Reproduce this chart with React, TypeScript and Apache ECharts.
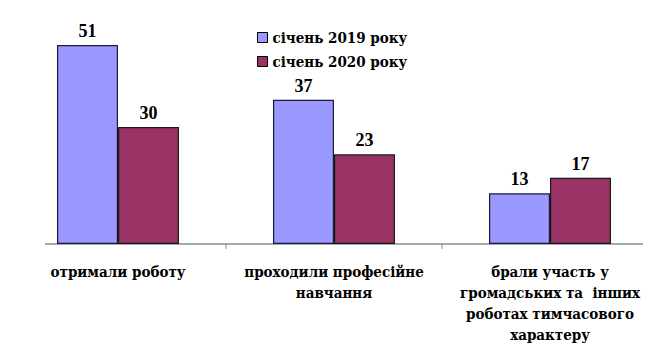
import React, { useEffect, useRef } from "react";
import * as echarts from "echarts";

const categories = [
  "отримали роботу",
  "проходили професійне\nнавчання",
  "брали участь у\nгромадських та  інших\nроботах тимчасового\nхарактеру",
];
const seriesNames = ["січень 2019 року", "січень 2020 року"];
const values2019 = [51, 37, 13];
const values2020 = [30, 23, 17];

const FONT = "'DejaVu Serif Condensed', 'DejaVu Serif', serif";
const NUMFONT = "'Liberation Serif', serif";

export default function App() {
  const ref = useRef<HTMLDivElement>(null);
  useEffect(() => {
    if (!ref.current) return;
    const chart = echarts.init(ref.current, undefined, { renderer: "svg" });
    const labelStyle = {
      show: true,
      position: "top" as const,
      distance: 5,
      fontFamily: NUMFONT,
      fontWeight: "bold" as const,
      fontSize: 18,
      color: "#000",
    };
    chart.setOption({
      animation: false,
      backgroundColor: "#fff",
      textStyle: { fontFamily: FONT },
      grid: { left: 10, top: 10, width: 648, height: 234, containLabel: false },
      legend: {
        left: 252,
        top: 25,
        orient: "vertical",
        itemWidth: 10,
        itemHeight: 10,
        itemGap: 9,
        textStyle: { fontFamily: FONT, fontWeight: "bold", fontSize: 15, color: "#000" },
        data: seriesNames.map((n) => ({ name: n, icon: "rect", itemStyle: { borderColor: "#000", borderWidth: 1 } })),
      },
      xAxis: {
        type: "category",
        data: categories,
        axisLine: { show: false },
        axisTick: { show: false },
        axisLabel: {
          margin: 17,
          fontFamily: FONT,
          fontWeight: "bold",
          fontSize: 15,
          lineHeight: 21,
          color: "#000",
          interval: 0,
          verticalAlign: "top",
        },
      },
      yAxis: {
        type: "value",
        min: 0,
        max: 60,
        show: false,
        splitLine: { show: false },
      },
      graphic: [
        { type: "line", shape: { x1: 45, y1: 244, x2: 643, y2: 244 }, style: { stroke: "#8c8c8c", lineWidth: 1.5 }, z: 1 },
        { type: "line", shape: { x1: 226, y1: 244, x2: 226, y2: 249 }, style: { stroke: "#8c8c8c", lineWidth: 1 } },
        { type: "line", shape: { x1: 442, y1: 244, x2: 442, y2: 249 }, style: { stroke: "#8c8c8c", lineWidth: 1 } },
      ],
      series: [
        {
          name: seriesNames[0],
          type: "bar",
          data: values2019,
          barWidth: 61,
          barGap: "0%",
          itemStyle: { color: "#9999FF", borderColor: "#1a1a3a", borderWidth: 1.2 },
          label: labelStyle,
          z: 3,
        },
        {
          name: seriesNames[1],
          type: "bar",
          data: values2020,
          barWidth: 61,
          itemStyle: { color: "#993366", borderColor: "#1a1a1a", borderWidth: 1.2 },
          label: labelStyle,
          z: 3,
        },
      ],
    });
    return () => chart.dispose();
  }, []);
  return <div ref={ref} style={{ width: 670, height: 357, margin: -8 }} />;
}
